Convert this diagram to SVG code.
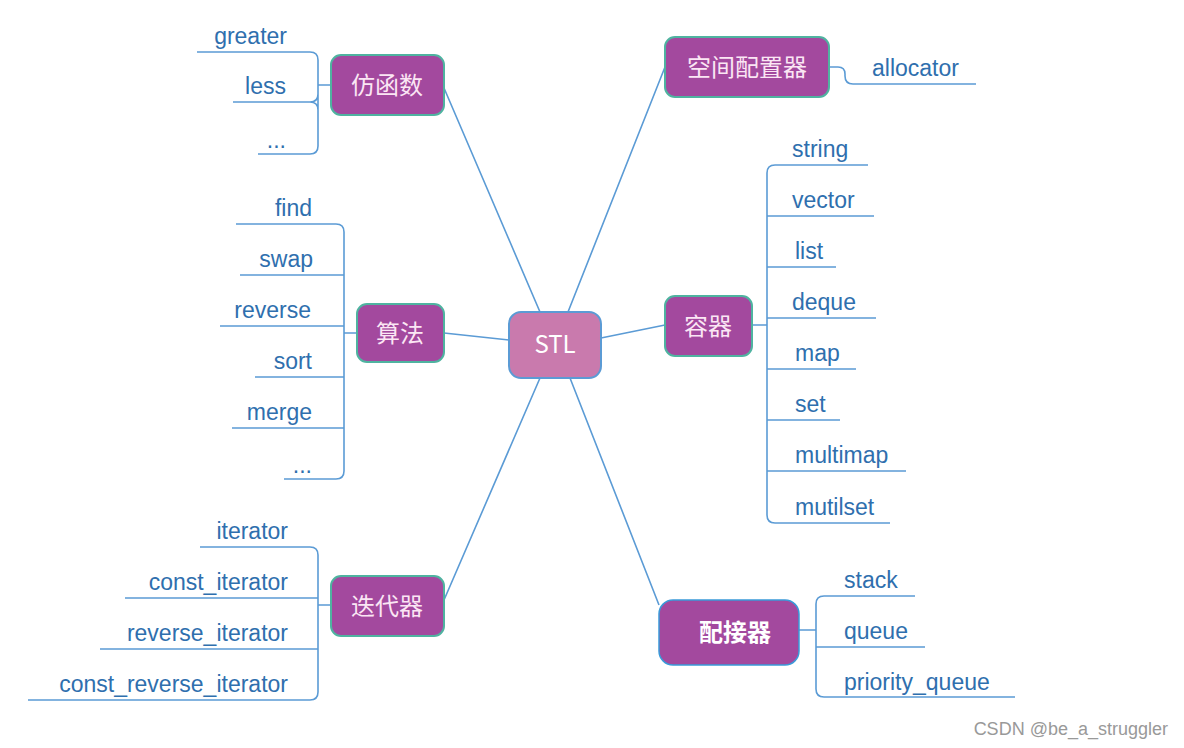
<svg xmlns="http://www.w3.org/2000/svg" width="1184" height="748" viewBox="0 0 1184 748">
<style>
.n{fill:#a3499e;stroke:#4fb3a0;stroke-width:2}
.t{font-family:"Noto Sans CJK SC","Liberation Sans",sans-serif;font-size:24px;fill:#fbe6f4;text-anchor:middle}
.l{font-family:"Liberation Sans",Arial,sans-serif;font-size:23px;fill:#2f6fae}
.e{text-anchor:end}
.c{fill:none;stroke:#5b9bd5;stroke-width:1.6}
</style>
<rect width="1184" height="748" fill="#fff"/>
<g id="connectors" class="c">
<path d="M444 88 L540 312 M665 67 L568 312 M665 325 L601 338 M444 333 L509 340 M444 600 L540 378 M659 605 L570 378"/>
<path d="M197 52 H310 Q318 52 318 60 V146 Q318 154 310 154 H258 M233 102 H310 Q318 102 318 94 M318 110 Q318 102 310 102 M318 85 H331"/>
<path d="M236 224 H336 Q344 224 344 232 V471 Q344 479 336 479 H284 M240 275 H344 M220 326 H344 M255 377 H344 M232 428 H344 M344 333 H357"/>
<path d="M200 547 H310 Q318 547 318 555 V692 Q318 700 310 700 H28 M125 598 H318 M100 649 H318 M318 605 H331"/>
<path d="M868 165 H775 Q767 165 767 173 V515 Q767 523 775 523 H890 M874 216 H767 M836 267 H767 M876 318 H767 M856 369 H767 M840 420 H767 M906 471 H767 M752 325 H767"/>
<path d="M829 67 H838 Q845 67 845 74 V76 Q845 84 853 84 H976"/>
<path d="M915 596 H824 Q816 596 816 604 V689 Q816 697 824 697 H1015 M925 647 H816 M799 630 H816"/>
</g>
<g id="stl"><rect x="509" y="312" width="92" height="66" rx="12" fill="#c97aad" stroke="#5b9bd5" stroke-width="2"/><text class="t" x="555" y="353" style="fill:#fff">STL</text></g>
<g id="fanghanshu"><rect class="n" x="331" y="55" width="113" height="60" rx="10"/><text class="t" x="387" y="94">仿函数</text></g>
<g id="kongjian"><rect class="n" x="665" y="37" width="164" height="60" rx="10"/><text class="t" x="747" y="76">空间配置器</text></g>
<g id="rongqi"><rect class="n" x="665" y="296" width="87" height="60" rx="10"/><text class="t" x="708" y="335">容器</text></g>
<g id="suanfa"><rect class="n" x="357" y="304" width="87" height="58" rx="10"/><text class="t" x="400" y="342">算法</text></g>
<g id="diedaiqi"><rect class="n" x="331" y="576" width="113" height="60" rx="10"/><text class="t" x="387" y="615">迭代器</text></g>
<g id="peijieqi"><rect x="659" y="600" width="140" height="65" rx="14" fill="#a3499e" stroke="#3a9ad9" stroke-width="1.5"/><text class="t" x="735" y="641" style="fill:#fff;font-weight:bold">配接器</text></g>
<g id="leaves">
<text class="l e" x="287" y="44">greater</text>
<text class="l e" x="286" y="94">less</text>
<text class="l e" x="286" y="148">...</text>
<text class="l e" x="312" y="216">find</text>
<text class="l e" x="313" y="267">swap</text>
<text class="l e" x="311" y="318">reverse</text>
<text class="l e" x="312" y="369">sort</text>
<text class="l e" x="312" y="420">merge</text>
<text class="l e" x="312" y="473">...</text>
<text class="l e" x="288" y="539">iterator</text>
<text class="l e" x="288" y="590">const_iterator</text>
<text class="l e" x="288" y="641">reverse_iterator</text>
<text class="l e" x="288" y="692">const_reverse_iterator</text>
<text class="l" x="872" y="76">allocator</text>
<text class="l" x="792" y="157">string</text>
<text class="l" x="792" y="208">vector</text>
<text class="l" x="795" y="259">list</text>
<text class="l" x="792" y="310">deque</text>
<text class="l" x="795" y="361">map</text>
<text class="l" x="795" y="412">set</text>
<text class="l" x="795" y="463">multimap</text>
<text class="l" x="795" y="515">mutilset</text>
<text class="l" x="844" y="588">stack</text>
<text class="l" x="844" y="639">queue</text>
<text class="l" x="844" y="690">priority_queue</text>
</g>
<text x="1168" y="735" font-family="Liberation Sans,sans-serif" font-size="18" fill="#999" text-anchor="end">CSDN @be_a_struggler</text>
</svg>
